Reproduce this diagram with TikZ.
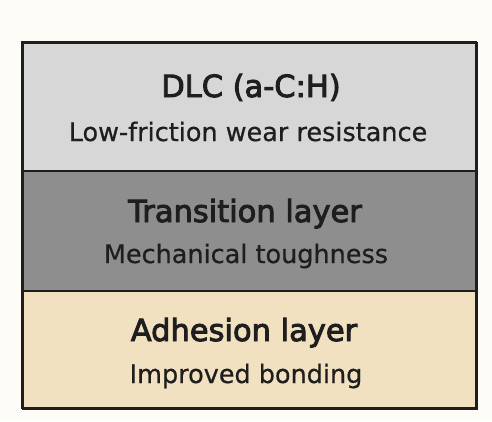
\documentclass[tikz,border=0pt]{standalone}
\usepackage{fontspec}
\setmainfont{DejaVu Sans}[FakeBold=0.6]
\newfontfamily\titlefont[FakeBold=3]{DejaVu Sans}
\definecolor{bgc}{HTML}{FDFCF7}
\definecolor{dlcc}{HTML}{D7D7D7}
\definecolor{transc}{HTML}{8E8E8E}
\definecolor{adhc}{HTML}{F1E1C1}
\definecolor{inkc}{HTML}{1E1E1E}
\tikzset{
  layerbox/.style={draw=inkc, line width=1.5bp, inner sep=0pt, minimum width=454bp, minimum height=#1, anchor=north west},
  ttl/.style={anchor=base, inner sep=0pt, text=inkc, font=\titlefont\fontsize{30.5bp}{34bp}\selectfont},
  sub/.style={anchor=base, inner sep=0pt, text=inkc, font=\fontsize{25.5bp}{30bp}\selectfont},
}
\begin{document}
\begin{tikzpicture}[x=1bp,y=-1bp]
\fill[bgc] (0,0) rectangle (492,421);
\useasboundingbox (0,0) rectangle (492,421);
\node[layerbox=128bp, fill=dlcc] (dlc) at (22,42) {};
\node[layerbox=120bp, fill=transc] (trans) at (22,170) {};
\node[layerbox=118bp, fill=adhc] (adh) at (22,290) {};
\draw[inkc, line width=2bp] (22,42) rectangle (476,408);
\node[ttl] (t1) at (251,97) {DLC (a-C:H)};
\node[sub] (s1) at (248,141) {Low-friction wear resistance};
\node[ttl] (t2) at (245,222) {Transition layer};
\node[sub] (s2) at (246,263) {Mechanical toughness};
\node[ttl] (t3) at (244,341) {Adhesion layer};
\node[sub] (s3) at (246,383) {Improved bonding};
\end{tikzpicture}
\end{document}
